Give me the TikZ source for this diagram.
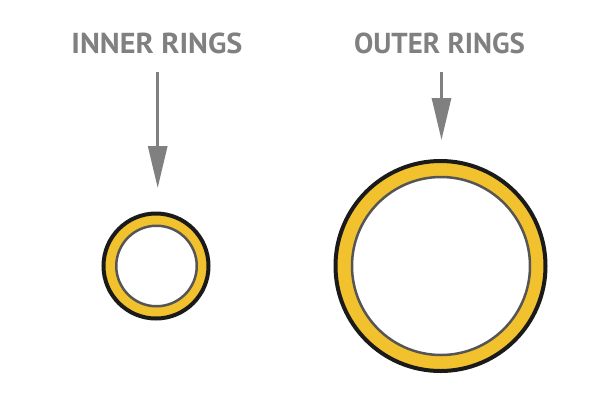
\documentclass[tikz,border=0pt]{standalone}
\usepackage{fontspec}
\setmainfont{PT Sans}
\usetikzlibrary{arrows.meta}
\definecolor{labelgray}{HTML}{808080}
\definecolor{arrowgray}{HTML}{808080}
\definecolor{ringyellow}{HTML}{F2C12E}
\definecolor{ringblack}{HTML}{1A1A1A}
\definecolor{innergray}{HTML}{555555}
\tikzset{
  lbl/.style={anchor=base, inner sep=0pt, text=labelgray, font=\bfseries},
  pointer/.style={draw=arrowgray, line width=3pt, -{Triangle[length=42pt,width=19pt]}},
  outerring/.style={circle, draw=ringblack, line width=4pt, fill=ringyellow, inner sep=0pt},
  innerring/.style={circle, draw=innergray, line width=2.5pt, fill=white, inner sep=0pt}
}
\begin{document}
\begin{tikzpicture}[x=1pt,y=-1pt]
\useasboundingbox (0,0) rectangle (600,400);
\node[lbl] (tin) at (157,53.3) {\resizebox{171pt}{20.6pt}{INNER RINGS}};
\node[lbl] (tout) at (439.5,53.3) {\resizebox{171pt}{20.6pt}{OUTER RINGS}};
\coordinate (a1s) at (157.7,71.7);
\coordinate (a1e) at (157.7,188);
\coordinate (a2s) at (441.5,71.7);
\coordinate (a2e) at (441.5,140);
\draw[pointer] (a1s) -- (a1e);
\draw[pointer] (a2s) -- (a2e);
\node[outerring, minimum size=105pt] (so) at (156,266) {};
\node[innerring, minimum size=80.5pt] (si) at (156.5,266) {};
\node[outerring, minimum size=210pt] (lo) at (440.5,266) {};
\node[innerring, minimum size=178pt] (li) at (441,266) {};
\end{tikzpicture}
\end{document}
